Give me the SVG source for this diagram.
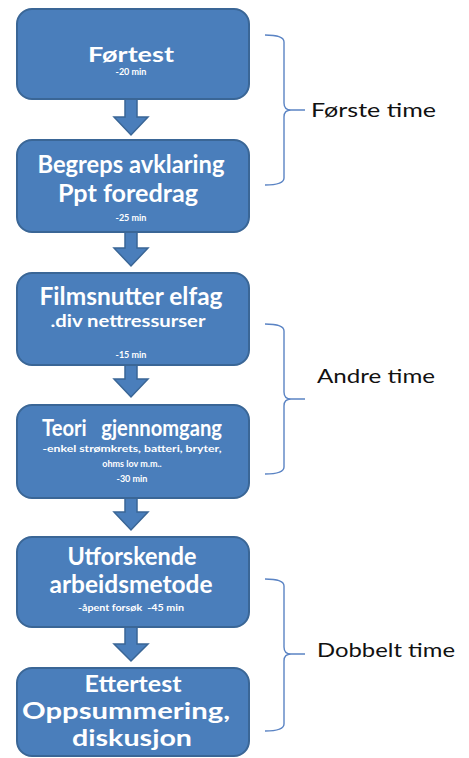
<svg xmlns="http://www.w3.org/2000/svg" width="469" height="758" viewBox="0 0 469 758">
<style>
.box{fill:#4A7EBB;stroke:#3A6696;stroke-width:2}
.arr{fill:#4A7EBB;stroke:#3A6696;stroke-width:1.5;stroke-linejoin:miter}
.t{font-family:Lato,"Open Sans","Liberation Sans",sans-serif;font-weight:700;fill:#FFFFFF;text-anchor:middle}
.s{font-family:Lato,"Open Sans","Liberation Sans",sans-serif;font-weight:700;fill:#FFFFFF;text-anchor:middle;font-size:9px}
.br{fill:none;stroke:#5B84C4;stroke-width:1.4}
.lbl{font-family:Lato,"Open Sans","Liberation Sans",sans-serif;font-size:19px;fill:#111111}
</style>
<rect width="469" height="758" fill="#FFFFFF"/>
<g id="connectors">
<path class="arr" d="M125,99 L137,99 L137,117 L148,117 L131,135 L114,117 L125,117 Z"/>
<path class="arr" d="M125,232 L137,232 L137,248 L148,248 L131,266 L114,248 L125,248 Z"/>
<path class="arr" d="M125,365 L137,365 L137,379 L148,379 L131,397 L114,379 L125,379 Z"/>
<path class="arr" d="M125,498 L137,498 L137,512 L148,512 L131,530 L114,512 L125,512 Z"/>
<path class="arr" d="M125,627 L137,627 L137,644 L148,644 L131,661 L114,644 L125,644 Z"/>
</g>
<g id="node1">
<rect class="box" x="17" y="9" width="232" height="90" rx="15"/>
<text class="t" x="131" y="62" font-size="20" textLength="86" lengthAdjust="spacingAndGlyphs">Førtest</text>
<text class="s" x="131" y="75">-20 min</text>
</g>
<g id="node2">
<rect class="box" x="17" y="140" width="232" height="92" rx="15"/>
<text class="t" x="131" y="173" font-size="24" textLength="187" lengthAdjust="spacingAndGlyphs">Begreps avklaring</text>
<text class="t" x="128" y="202" font-size="24" textLength="140" lengthAdjust="spacingAndGlyphs">Ppt foredrag</text>
<text class="s" x="131" y="221">-25 min</text>
</g>
<g id="node3">
<rect class="box" x="17" y="273" width="232" height="92" rx="15"/>
<text class="t" x="131" y="305" font-size="24" textLength="183" lengthAdjust="spacingAndGlyphs">Filmsnutter elfag</text>
<text class="t" x="128" y="327" font-size="17" textLength="155" lengthAdjust="spacingAndGlyphs">.div nettressurser</text>
<text class="s" x="131" y="358">-15 min</text>
</g>
<g id="node4">
<rect class="box" x="17" y="405" width="232" height="93" rx="15"/>
<text class="t" x="132" y="436" font-size="22" textLength="180" lengthAdjust="spacingAndGlyphs" style="white-space:pre">Teori   gjennomgang</text>
<text class="s" x="132" y="452" font-size="10" textLength="179" lengthAdjust="spacingAndGlyphs">-enkel strømkrets, batteri, bryter,</text>
<text class="s" x="132" y="467">ohms lov m.m..</text>
<text class="s" x="132" y="482">-30 min</text>
</g>
<g id="node5">
<rect class="box" x="17" y="537" width="232" height="90" rx="15"/>
<text class="t" x="132" y="565" font-size="24" textLength="129" lengthAdjust="spacingAndGlyphs">Utforskende</text>
<text class="t" x="131" y="593" font-size="24" textLength="163" lengthAdjust="spacingAndGlyphs">arbeidsmetode</text>
<text class="s" x="131" y="611" textLength="106" lengthAdjust="spacingAndGlyphs" style="white-space:pre">-åpent forsøk  -45 min</text>
</g>
<g id="node6">
<rect class="box" x="17" y="668" width="232" height="88" rx="15"/>
<text class="t" x="133" y="692" font-size="22" textLength="97" lengthAdjust="spacingAndGlyphs">Ettertest</text>
<text class="t" x="126" y="719" font-size="22" textLength="208" lengthAdjust="spacingAndGlyphs">Oppsummering,</text>
<text class="t" x="132" y="746" font-size="22" textLength="120" lengthAdjust="spacingAndGlyphs">diskusjon</text>
</g>
<g id="brace1">
<path class="br" d="M265,35 Q284,35 284,42 L284,103 Q284,110 291,110 L305,110 M291,110 Q284,110 284,117 L284,178 Q284,185 265,185"/>
<text class="lbl" x="311" y="117" textLength="125" lengthAdjust="spacingAndGlyphs">Første time</text>
</g>
<g id="brace2">
<path class="br" d="M265,324 Q284,324 284,331 L284,392 Q284,399 291,399 L305,399 M291,399 Q284,399 284,406 L284,467 Q284,474 265,474"/>
<text class="lbl" x="317" y="383" textLength="118" lengthAdjust="spacingAndGlyphs">Andre time</text>
</g>
<g id="brace3">
<path class="br" d="M265,579 Q284,579 284,586 L284,647 Q284,654 291,654 L305,654 M291,654 Q284,654 284,661 L284,724 Q284,731 265,731"/>
<text class="lbl" x="317" y="657" textLength="138" lengthAdjust="spacingAndGlyphs">Dobbelt time</text>
</g>
</svg>
